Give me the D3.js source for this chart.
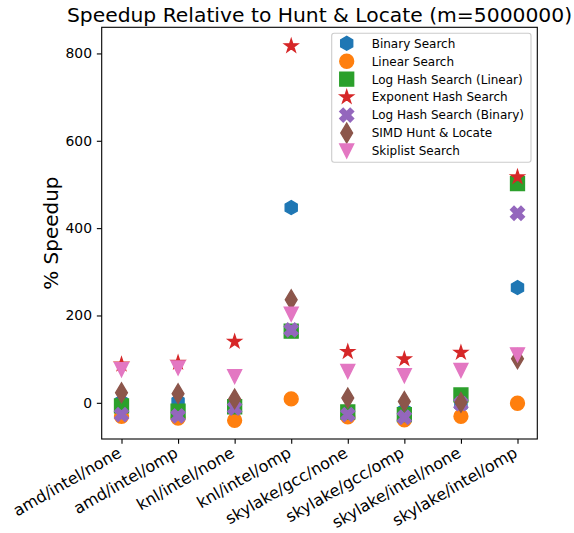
<!DOCTYPE html>
<html>
<head>
<meta charset="utf-8">
<script src="https://cdn.jsdelivr.net/npm/d3@7"></script>
<style>
  body { margin: 0; background: #fff; }
  text { font-family: "DejaVu Sans", sans-serif; fill: #000; }
</style>
</head>
<body>
<svg id="chart" width="574" height="533"></svg>
<script>
var svg = d3.select("#chart");

// plot area (matplotlib-like axes box)
const axLeft = 101.7, axRight = 537.3, axTop = 27.3, axBottom = 439;

const categories = ["amd/intel/none", "amd/intel/omp", "knl/intel/none", "knl/intel/omp",
  "skylake/gcc/none", "skylake/gcc/omp", "skylake/intel/none", "skylake/intel/omp"];

// % speedup per algorithm, one value per category
const binarySearch   = [2, 3, -10, 447, -22, -18, -5, 264];
const linearSearch   = [-31, -35, -40, 9, -32, -39, -31, -1];
const logHashLinear  = [-7, -19, -9, 164, -21, -27, 18, 502];
const exponentHash   = [88, 92, 140, 817, 117, 100, 115, 517];
const logHashBinary  = [-27, -30, -12, 167, -27, -33, -2, 434];
const simdHunt       = [23, 21, 9, 236, 11, 3, 1, 101];
const skiplistSearch = [76, 80, 60, 203, 72, 62, 74, 110];

const seriesNames = ["Binary Search", "Linear Search", "Log Hash Search (Linear)",
  "Exponent Hash Search", "Log Hash Search (Binary)", "SIMD Hunt & Locate", "Skiplist Search"];
const seriesValues = [binarySearch, linearSearch, logHashLinear, exponentHash,
  logHashBinary, simdHunt, skiplistSearch];
const seriesColors = ["#1f77b4", "#ff7f0e", "#2ca02c", "#d62728", "#9467bd", "#8c564b", "#e377c2"];
const seriesMarkers = ["hexagon", "circle", "square", "star", "xfilled", "thindiamond", "triangledown"];

const yTicks = [0, 200, 400, 600, 800];

const ms = 13.9; // marker size in px

// marker paths, sized like matplotlib markers
var polyPath = (pts) => "M" + pts.map(p => p[0].toFixed(2) + "," + p[1].toFixed(2)).join("L") + "Z";

var markerPath = (kind, s) => {
  let r = s / 2;
  if (kind === "circle") {
    return "M" + r + ",0A" + r + "," + r + " 0 1,1 " + (-r) + ",0A" + r + "," + r + " 0 1,1 " + r + ",0Z";
  }
  if (kind === "square") {
    return polyPath([[-r, -r], [r, -r], [r, r], [-r, r]]);
  }
  if (kind === "hexagon") {
    let pts = d3.range(6).map(i => {
      let a = Math.PI / 2 + i * Math.PI / 3;
      return [r * Math.cos(a), -r * Math.sin(a)];
    });
    return polyPath(pts);
  }
  if (kind === "star") {
    let inner = r * 0.381966;
    let pts = d3.range(10).map(i => {
      let a = Math.PI / 2 + i * Math.PI / 5;
      let rr = i % 2 === 0 ? r : inner;
      return [rr * Math.cos(a), -rr * Math.sin(a)];
    });
    return polyPath(pts);
  }
  if (kind === "xfilled") {
    let raw = [[0.25, 0], [0.5, 0.25], [0.75, 0], [1, 0.25], [0.75, 0.5], [1, 0.75],
      [0.75, 1], [0.5, 0.75], [0.25, 1], [0, 0.75], [0.25, 0.5], [0, 0.25]];
    return polyPath(raw.map(p => [(p[0] - 0.5) * s, (p[1] - 0.5) * s]));
  }
  if (kind === "thindiamond") {
    let h = s * Math.SQRT1_2;
    return polyPath([[0, -h], [0.6 * h, 0], [0, h], [-0.6 * h, 0]]);
  }
  if (kind === "triangledown") {
    return polyPath([[0, r], [-r, -r], [r, -r]]);
  }
};

// scales
var x = d3.scalePoint()
  .domain(categories)
  .range([axLeft, axRight])
  .padding(0.35);

var allValues = [].concat(...seriesValues);
var yMin = d3.min(allValues), yMax = d3.max(allValues);
var yMargin = (yMax - yMin) * 0.05;
var y = d3.scaleLinear()
  .domain([yMin - yMargin, yMax + yMargin])
  .range([axBottom, axTop]);

// axes
var tickLen = 4.86;
var xAxis = svg.append("g")
  .attr("transform", "translate(0," + axBottom + ")")
  .call(d3.axisBottom(x).tickSize(tickLen).tickSizeOuter(0));
xAxis.select(".domain").remove();
xAxis.selectAll(".tick line").attr("stroke", "#000").attr("stroke-width", 1.1);
xAxis.selectAll(".tick text")
  .style("font-size", "16px")
  .style("font-family", "'DejaVu Sans', sans-serif")
  .attr("text-anchor", "end")
  .attr("y", null).attr("dy", null)
  .attr("transform", "translate(0.5,17) rotate(-30)");

var yAxis = svg.append("g")
  .attr("transform", "translate(" + axLeft + ",0)")
  .call(d3.axisLeft(y).tickValues(yTicks).tickSize(tickLen).tickPadding(tickLen).tickSizeOuter(0));
yAxis.select(".domain").remove();
yAxis.selectAll(".tick line").attr("stroke", "#000").attr("stroke-width", 1.1);
yAxis.selectAll(".tick text")
  .style("font-size", "13.9px")
  .style("font-family", "'DejaVu Sans', sans-serif");

// markers, series drawn in order so later ones sit on top
seriesValues.forEach((vals, si) => {
  svg.append("g")
    .selectAll("path")
    .data(vals)
    .enter()
    .append("path")
    .attr("d", markerPath(seriesMarkers[si], ms))
    .attr("transform", (d, i) => "translate(" + x(categories[i]) + "," + y(d) + ")")
    .attr("fill", seriesColors[si])
    .attr("stroke", seriesColors[si])
    .attr("stroke-width", 1.39)
    .attr("stroke-linejoin", "miter");
});

// frame
svg.append("rect")
  .attr("x", axLeft).attr("y", axTop)
  .attr("width", axRight - axLeft).attr("height", axBottom - axTop)
  .attr("fill", "none").attr("stroke", "#000").attr("stroke-width", 1.1);

// title
svg.append("text")
  .attr("x", (axLeft + axRight) / 2)
  .attr("y", 22)
  .attr("text-anchor", "middle")
  .style("font-size", "20.3px")
  .text("Speedup Relative to Hunt & Locate (m=5000000)");

// y label
svg.append("text")
  .attr("transform", "translate(57.5," + ((axTop + axBottom) / 2) + ") rotate(-90)")
  .attr("text-anchor", "middle")
  .style("font-size", "20px")
  .text("% Speedup");

// legend
var legend = svg.append("g");
legend.append("rect")
  .attr("x", 331.7).attr("y", 33.3)
  .attr("width", 199.3).attr("height", 129)
  .attr("rx", 2.5)
  .attr("fill", "#fff").attr("fill-opacity", 0.8)
  .attr("stroke", "#cccccc").attr("stroke-width", 1.1);

seriesNames.forEach((name, si) => {
  let ry = 43.3 + si * 17.95;
  legend.append("path")
    .attr("d", markerPath(seriesMarkers[si], ms))
    .attr("transform", "translate(346.7," + ry + ")")
    .attr("fill", seriesColors[si])
    .attr("stroke", seriesColors[si])
    .attr("stroke-width", 1.39);
  legend.append("text")
    .attr("x", 371.7).attr("y", ry)
    .attr("dy", "0.36em")
    .style("font-size", "12px")
    .text(name);
});
</script>
</body>
</html>
